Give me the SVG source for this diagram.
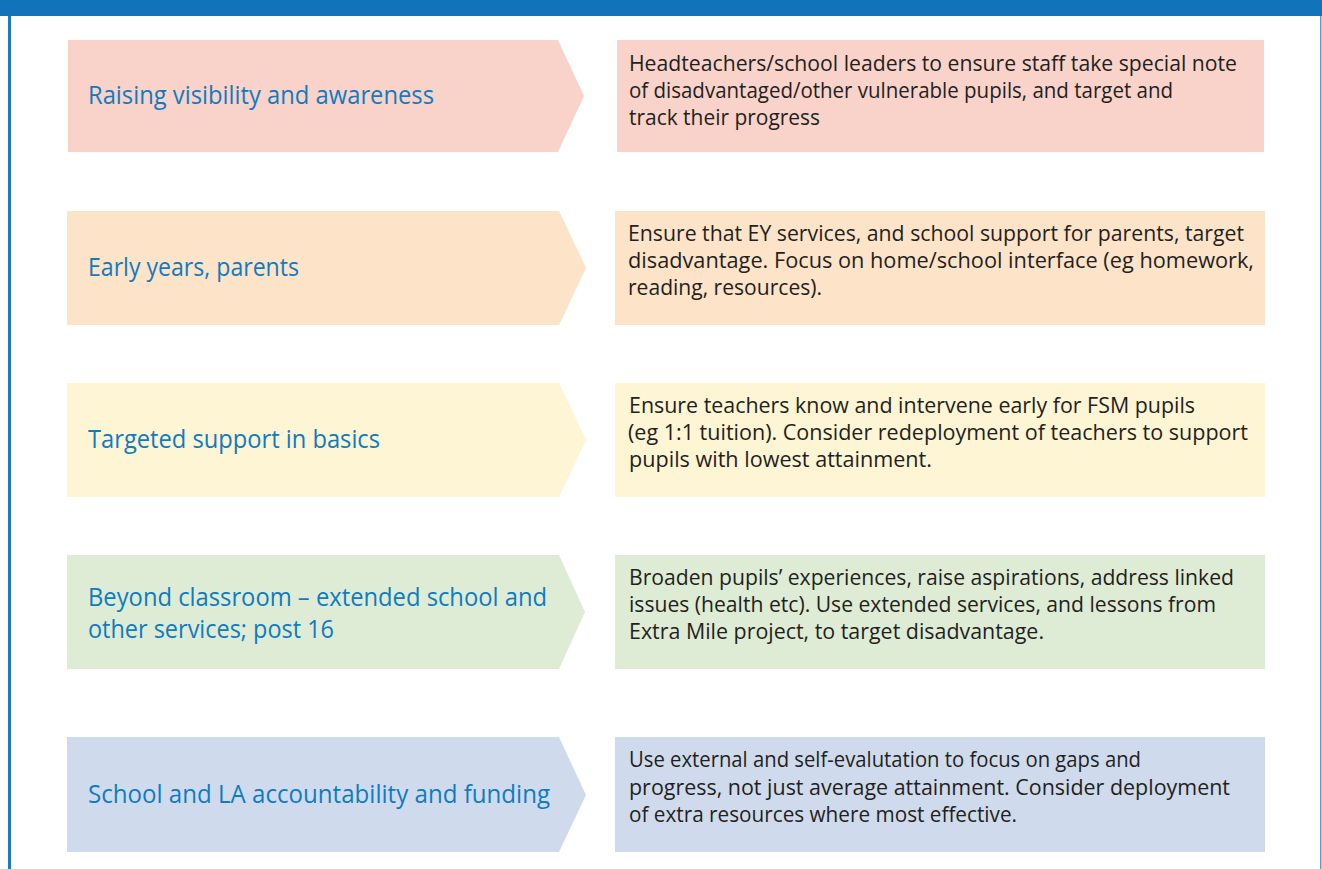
<svg xmlns="http://www.w3.org/2000/svg" width="1322" height="869" viewBox="0 0 1322 869">
<style>
.lt{font-family:"Open Sans","Liberation Sans",sans-serif;font-size:25px;fill:#0f7bc1}
.rt{font-family:"Open Sans","Liberation Sans",sans-serif;font-size:21px;fill:#231f20}
.c1{fill:#f9d3c9}.c2{fill:#fde3c8}.c3{fill:#fdf5d4}.c4{fill:#deecd6}.c5{fill:#cfdbed}
</style>
<rect x="0" y="0" width="1322" height="869" fill="#ffffff"/>
<g id="frame">
<rect x="0" y="0" width="1322" height="16" fill="#1174bb"/>
<rect x="8" y="16" width="3" height="853" fill="#1a7ac4"/>
<rect x="1320" y="16" width="1.5" height="853" fill="#5b9bd0"/>
</g>
<g id="row1">
<polygon class="c1" points="68,40 558,40 584,96 558,152 68,152"/>
<text class="lt" x="88" y="104" textLength="346" lengthAdjust="spacingAndGlyphs">Raising visibility and awareness</text>
<rect class="c1" x="617" y="40" width="647" height="112"/>
<text class="rt" x="629" y="71" textLength="608" lengthAdjust="spacingAndGlyphs">Headteachers/school leaders to ensure staff take special note</text>
<text class="rt" x="629" y="98" textLength="544" lengthAdjust="spacingAndGlyphs">of disadvantaged/other vulnerable pupils, and target and</text>
<text class="rt" x="629" y="125" textLength="191" lengthAdjust="spacingAndGlyphs">track their progress</text>
</g>
<g id="row2">
<polygon class="c2" points="67,211 559,211 586,268 559,325 67,325"/>
<text class="lt" x="88" y="276" textLength="211" lengthAdjust="spacingAndGlyphs">Early years, parents</text>
<rect class="c2" x="615" y="211" width="650" height="114"/>
<text class="rt" x="628" y="241" textLength="616" lengthAdjust="spacingAndGlyphs">Ensure that EY services, and school support for parents, target</text>
<text class="rt" x="628" y="268" textLength="626" lengthAdjust="spacingAndGlyphs">disadvantage. Focus on home/school interface (eg homework,</text>
<text class="rt" x="628" y="295" textLength="194" lengthAdjust="spacingAndGlyphs">reading, resources).</text>
</g>
<g id="row3">
<polygon class="c3" points="67,383 559,383 586,440 559,497 67,497"/>
<text class="lt" x="88" y="448" textLength="292" lengthAdjust="spacingAndGlyphs">Targeted support in basics</text>
<rect class="c3" x="615" y="383" width="650" height="114"/>
<text class="rt" x="629" y="413" textLength="566" lengthAdjust="spacingAndGlyphs">Ensure teachers know and intervene early for FSM pupils</text>
<text class="rt" x="628" y="440" textLength="620" lengthAdjust="spacingAndGlyphs">(eg 1:1 tuition). Consider redeployment of teachers to support</text>
<text class="rt" x="629" y="467" textLength="303" lengthAdjust="spacingAndGlyphs">pupils with lowest attainment.</text>
</g>
<g id="row4">
<polygon class="c4" points="67,555 559,555 585,612 559,669 67,669"/>
<text class="lt" x="88" y="606" textLength="459" lengthAdjust="spacingAndGlyphs">Beyond classroom – extended school and</text>
<text class="lt" x="88" y="638" textLength="246" lengthAdjust="spacingAndGlyphs">other services; post 16</text>
<rect class="c4" x="615" y="555" width="650" height="114"/>
<text class="rt" x="629" y="585" textLength="605" lengthAdjust="spacingAndGlyphs">Broaden pupils’ experiences, raise aspirations, address linked</text>
<text class="rt" x="629" y="612" textLength="587" lengthAdjust="spacingAndGlyphs">issues (health etc). Use extended services, and lessons from</text>
<text class="rt" x="629" y="639" textLength="415" lengthAdjust="spacingAndGlyphs">Extra Mile project, to target disadvantage.</text>
</g>
<g id="row5">
<polygon class="c5" points="67,737 559,737 586,795 559,852 67,852"/>
<text class="lt" x="88" y="803" textLength="462" lengthAdjust="spacingAndGlyphs">School and LA accountability and funding</text>
<rect class="c5" x="615" y="737" width="650" height="115"/>
<text class="rt" x="629" y="767" textLength="512" lengthAdjust="spacingAndGlyphs">Use external and self-evalutation to focus on gaps and</text>
<text class="rt" x="629" y="795" textLength="601" lengthAdjust="spacingAndGlyphs">progress, not just average attainment. Consider deployment</text>
<text class="rt" x="629" y="822" textLength="388" lengthAdjust="spacingAndGlyphs">of extra resources where most effective.</text>
</g>
<g id="connectors"></g>
</svg>
